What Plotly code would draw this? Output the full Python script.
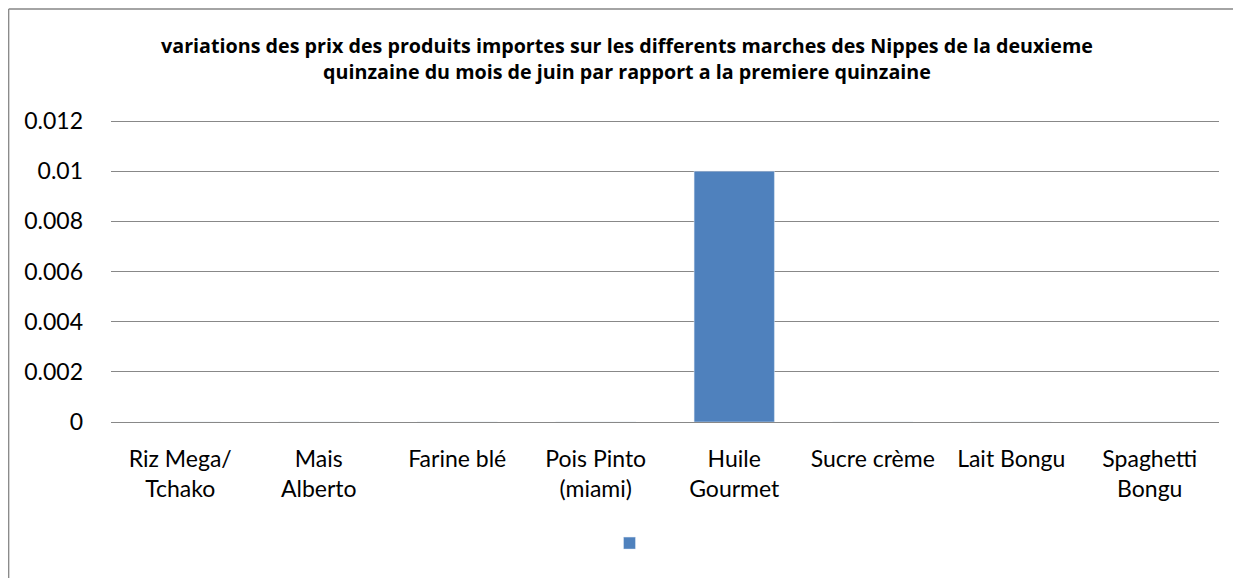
import plotly.graph_objects as go

# data
produits = ["Riz Mega/<br>Tchako", "Mais<br>Alberto", "Farine blé", "Pois Pinto<br>(miami)",
            "Huile<br>Gourmet", "Sucre crème", "Lait Bongu", "Spaghetti<br>Bongu"]
variation = [0, 0, 0, 0, 0.01, 0, 0, 0]
y_ticks = [0, 0.002, 0.004, 0.006, 0.008, 0.01, 0.012]
y_labels = ["0", "0.002", "0.004", "0.006", "0.008", "0.01", "0.012"]

titre = ("variations des prix des produits importes sur les differents marches des Nippes de la deuxieme"
         "<br>quinzaine du mois de juin par rapport a la premiere quinzaine")

# the page body has an 8px margin, so the figure is made smaller than the window
OFF = 8
W, H = 1241 - OFF, 578 - OFF
Y0, Y_TOP = 422 - OFF, 116 - OFF       # pixel rows of value 0 and of the range top
L, R = 111 - OFF, 22
T, B = Y_TOP, H - Y0
pw, ph = W - L - R, H - T - B


def px_x(p):
    return (p - OFF - L) / pw


def px_y(p):
    return (H - B - (p - OFF)) / ph


frame = dict(type="line", xref="paper", yref="paper",
             line=dict(color="#868686", width=1.3))

fig = go.Figure()
fig.add_trace(go.Bar(x=produits, y=variation, name=" ", marker_color="#4F81BD",
                     showlegend=True))

fig.update_layout(
    width=W, height=H,
    margin=dict(l=L, r=R, t=T, b=B),
    plot_bgcolor="white", paper_bgcolor="white",
    font=dict(family="Lato", size=23, color="black"),
    bargap=0.42,
    title=dict(text=titre, font=dict(family="Open Sans", size=19.7, color="black", weight="bold"),
               x=(627 - OFF) / W, xref="container", xanchor="center",
               y=1 - (36 + 17 - OFF) / H, yref="container", yanchor="top"),
    legend=dict(orientation="h", x=(634 - OFF) / W, xref="container", xanchor="center",
                y=1 - (543.5 - OFF) / H, yref="container", yanchor="middle",
                font=dict(size=14), itemwidth=30),
    shapes=[
        dict(frame, x0=px_x(8.7), x1=px_x(8.7), y0=px_y(9), y1=px_y(700)),
        dict(frame, x0=px_x(8.7), x1=px_x(1300), y0=px_y(9), y1=px_y(9)),
    ],
)
fig.update_yaxes(range=[0, 0.012 * (Y0 - Y_TOP) / (Y0 - (121 - OFF))],
                 tickvals=y_ticks, ticktext=y_labels,
                 showgrid=True, gridcolor="#888888", gridwidth=1.4,
                 zeroline=False, ticks="", ticklabelstandoff=27)
fig.update_xaxes(showline=True, linecolor="#888888", linewidth=1.4,
                 ticks="", tickangle=0, ticklabelstandoff=16)

fig.write_html("out.html")
